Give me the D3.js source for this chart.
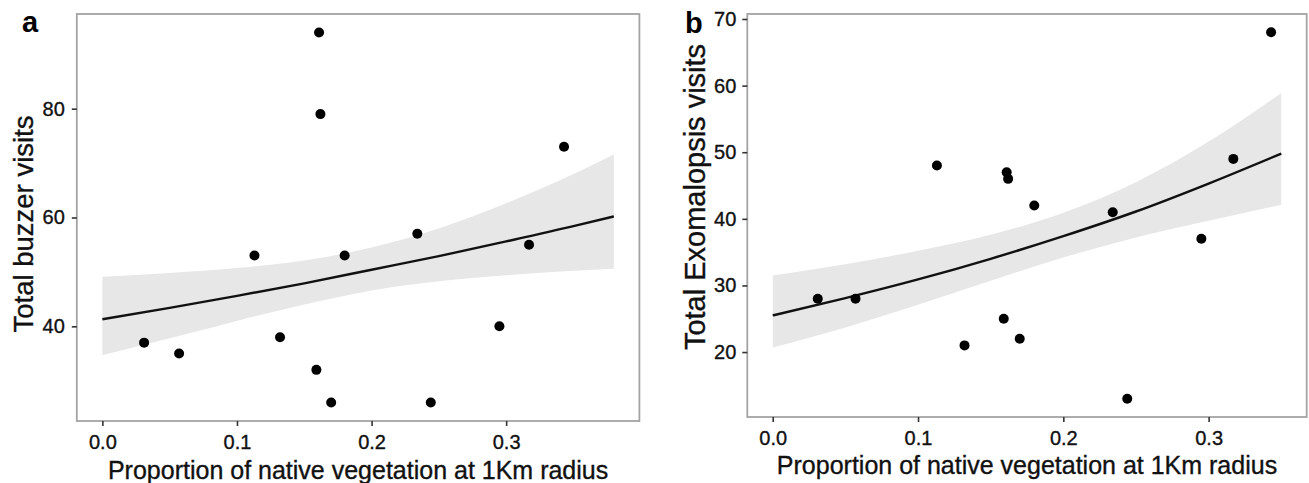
<!DOCTYPE html>
<html>
<head>
<meta charset="utf-8">
<script src="https://cdn.jsdelivr.net/npm/d3@7/dist/d3.min.js"></script>
<style>
  html, body { margin: 0; padding: 0; background: #fff; }
  svg { display: block; font-family: "Liberation Sans", Arial, Helvetica, sans-serif; }
  .txt { stroke: #111; stroke-width: 0.35px; }
</style>
</head>
<body>
<svg id="chart" width="1309" height="483"></svg>
<script>
// ---- Data ----
const proportion = [0.031, 0.057, 0.113, 0.132, 0.159, 0.161, 0.162, 0.170, 0.180, 0.234, 0.244, 0.295, 0.317, 0.343];
const buzzerVisits = [37, 35, 53, 38, 32, 94, 79, 26, 53, 57, 26, 40, 55, 73];
const exomalopsisVisits = [28, 28, 48, 21, 25, 47, 46, 22, 42, 41, 13, 37, 49, 68];

// fitted curve and confidence band, panel a
const fitXA = [0, 0.05, 0.10, 0.15, 0.20, 0.25, 0.30, 0.35, 0.38];
const buzzerFit = [41.3, 43.4, 45.6, 47.9, 50.4, 52.9, 55.6, 58.4, 60.2];
const buzzerLower = [34.7, 37.8, 41.0, 44.0, 46.6, 48.3, 49.4, 50.2, 50.6];
const buzzerUpper = [49.1, 49.8, 50.7, 52.1, 54.5, 58.0, 62.6, 68.0, 71.6];

// fitted curve and confidence band, panel b
const fitXB = [0, 0.05, 0.10, 0.15, 0.20, 0.25, 0.30, 0.35];
const exoFit = [25.5, 28.1, 30.9, 34.0, 37.4, 41.1, 45.3, 49.8];
const exoLower = [20.7, 23.7, 27.1, 30.7, 34.2, 37.2, 39.7, 42.1];
const exoUpper = [31.5, 33.2, 35.2, 37.6, 40.9, 45.5, 51.6, 58.9];

const xTicks = [0.0, 0.1, 0.2, 0.3];
const yTicksA = [40, 60, 80];
const yTicksB = [20, 30, 40, 50, 60, 70];

const xTitle = "Proportion of native vegetation at 1Km radius";

// ---- Drawing ----
const svg = d3.select("#chart");

function panel(cfg) {
  const x = d3.scaleLinear().domain(cfg.xDomain).range([cfg.left, cfg.right]);
  const y = d3.scaleLinear().domain(cfg.yDomain).range([cfg.bottom, cfg.top]);
  const g = svg.append("g");

  const band = cfg.fx.map((d, i) => ({x: d, lo: cfg.lower[i], hi: cfg.upper[i], f: cfg.fit[i]}));
  g.append("path")
    .datum(band)
    .attr("fill", "#e7e7e7")
    .attr("d", d3.area().curve(d3.curveMonotoneX)
      .x(d => x(d.x)).y0(d => y(d.lo)).y1(d => y(d.hi)));

  g.append("path")
    .datum(band)
    .attr("fill", "none")
    .attr("stroke", "#111")
    .attr("stroke-width", 2.4)
    .attr("d", d3.line().curve(d3.curveMonotoneX).x(d => x(d.x)).y(d => y(d.f)));

  g.selectAll("circle.pt")
    .data(cfg.px.map((d, i) => ({x: d, y: cfg.py[i]})))
    .join("circle")
    .attr("class", "pt")
    .attr("cx", d => x(d.x))
    .attr("cy", d => y(d.y))
    .attr("r", 5)
    .attr("fill", "#000");

  g.append("rect")
    .attr("x", cfg.left).attr("y", cfg.top)
    .attr("width", cfg.right - cfg.left).attr("height", cfg.bottom - cfg.top)
    .attr("fill", "none").attr("stroke", "#a3a3a3").attr("stroke-width", 1.8);

  const xa = g.append("g").attr("transform", `translate(0,${cfg.bottom})`)
    .call(d3.axisBottom(x).tickValues(xTicks).tickFormat(d3.format(".1f")).tickSize(5).tickPadding(8.5));
  xa.select(".domain").remove();
  xa.selectAll(".tick line").attr("stroke", "#333").attr("stroke-width", 1.6);
  xa.selectAll(".tick text").attr("class", "txt").attr("fill", "#111").style("font-size", "20px");

  const ya = g.append("g").attr("transform", `translate(${cfg.left},0)`)
    .call(d3.axisLeft(y).tickValues(cfg.yTicks).tickFormat(d3.format("d")).tickSize(5).tickPadding(cfg.yPad));
  ya.select(".domain").remove();
  ya.selectAll(".tick line").attr("stroke", "#333").attr("stroke-width", 1.6);
  ya.selectAll(".tick text").attr("class", "txt").attr("fill", "#111").style("font-size", "20px");

  g.append("text")
    .attr("class", "txt")
    .attr("x", (cfg.left + cfg.right) / 2)
    .attr("y", cfg.xTitleY)
    .attr("text-anchor", "middle")
    .attr("fill", "#111")
    .style("font-size", "25px")
    .text(xTitle);

  g.append("text")
    .attr("class", "txt")
    .attr("transform", `translate(${cfg.yTitleX},${cfg.yTitleCY}) rotate(-90)`)
    .attr("text-anchor", "middle")
    .attr("fill", "#111")
    .style("font-size", cfg.yTitleSize + "px")
    .text(cfg.yTitle);

  g.append("text")
    .attr("x", cfg.letterX).attr("y", cfg.letterY)
    .attr("fill", "#000")
    .style("font-size", "29px").style("font-weight", "bold")
    .text(cfg.letter);
}

panel({
  left: 76.8, right: 639.4, top: 14, bottom: 421,
  xDomain: [-0.019, 0.399], yDomain: [22.6, 97.4],
  fx: fitXA, fit: buzzerFit, lower: buzzerLower, upper: buzzerUpper,
  px: proportion, py: buzzerVisits,
  yTicks: yTicksA, yPad: 7,
  xTitleY: 479,
  yTitle: "Total buzzer visits", yTitleX: 33, yTitleCY: 224, yTitleSize: 27.5,
  letter: "a", letterX: 22, letterY: 32
});

panel({
  left: 747.3, right: 1306.7, top: 14, bottom: 417,
  xDomain: [-0.0175, 0.3675], yDomain: [10.25, 70.75],
  fx: fitXB, fit: exoFit, lower: exoLower, upper: exoUpper,
  px: proportion, py: exomalopsisVisits,
  yTicks: yTicksB, yPad: 6,
  xTitleY: 474,
  yTitle: "Total Exomalopsis visits", yTitleX: 705, yTitleCY: 197, yTitleSize: 29,
  letter: "b", letterX: 685, letterY: 33
});
</script>
</body>
</html>
